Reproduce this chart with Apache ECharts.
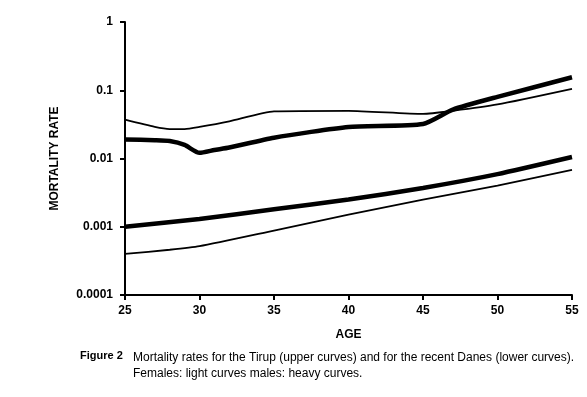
<!DOCTYPE html>
<html>
    <head>
        <meta charset="utf-8" />
        <title>ECharts</title>
        <script src="https://cdn.jsdelivr.net/npm/echarts@6/dist/echarts.min.js"></script>
        <style>
            body { margin: 0; background: #fff; }
        </style>
    </head>
    <body>
        <div id="main" style="width: 587px;height: 397px;"></div>
        <script type="text/javascript">
            const tirupFemaleAge = [25, 27, 28, 29, 30, 32, 35, 40, 45, 47, 50, 55];
            const tirupFemale = [0.037, 0.029, 0.027, 0.027, 0.029, 0.035, 0.049, 0.050, 0.045, 0.050, 0.062, 0.105];

            const tirupMaleAge = [25, 27, 28, 29, 30, 31, 32, 35, 40, 45, 47, 50, 55];
            const tirupMale = [0.019, 0.0185, 0.018, 0.0158, 0.0121, 0.0133, 0.0145, 0.0202, 0.029, 0.032, 0.052, 0.080, 0.155];

            const danesMaleAge = [25, 30, 35, 40, 45, 50, 55];
            const danesMale = [0.001, 0.0013, 0.0018, 0.0025, 0.0037, 0.0059, 0.0105];

            const danesFemaleAge = [25, 28, 30, 35, 40, 45, 50, 55];
            const danesFemale = [0.0004, 0.00046, 0.00052, 0.00088, 0.0015, 0.0025, 0.004, 0.0068];

            const yTickLabels = ['0.0001', '0.001', '0.01', '0.1', '1'];

            const myChart = echarts.init(document.getElementById('main'));

            const pairs = (ages, vals) => ages.map((a, i) => [a, vals[i]]);

            const line = (name, ages, vals, width) => ({
                type: 'line',
                name: name,
                data: pairs(ages, vals),
                showSymbol: false,
                smooth: 0.2,
                lineStyle: { color: '#000', width: width },
                z: width > 3 ? 3 : 2
            });

            const axisFont = {
                color: '#000',
                fontFamily: 'Liberation Sans',
                fontWeight: 'bold',
                fontSize: 12
            };

            const option = {
                animation: false,
                grid: { left: 125, right: 15, top: 22, bottom: 102 },
                xAxis: {
                    type: 'value',
                    min: 25,
                    max: 55,
                    interval: 5,
                    name: 'AGE',
                    nameLocation: 'middle',
                    nameGap: 34,
                    nameTextStyle: axisFont,
                    axisLine: { lineStyle: { color: '#000', width: 2 } },
                    axisTick: { length: 5, lineStyle: { color: '#000', width: 2 } },
                    axisLabel: Object.assign({ margin: 10 }, axisFont),
                    splitLine: { show: false }
                },
                yAxis: {
                    type: 'log',
                    logBase: 10,
                    min: 0.0001,
                    max: 1,
                    name: 'MORTALITY RATE',
                    nameLocation: 'middle',
                    nameGap: 64,
                    nameRotate: 90,
                    nameTextStyle: axisFont,
                    axisLine: { show: true, lineStyle: { color: '#000', width: 2 } },
                    axisTick: { show: true, length: 5, lineStyle: { color: '#000', width: 2 } },
                    axisLabel: Object.assign({
                        margin: 12,
                        formatter: (v) => yTickLabels[Math.round(Math.log10(v)) + 4]
                    }, axisFont),
                    splitLine: { show: false },
                    minorTick: { show: false }
                },
                series: [
                    line('Tirup females', tirupFemaleAge, tirupFemale, 1.8),
                    line('Tirup males', tirupMaleAge, tirupMale, 4.5),
                    line('Danes males', danesMaleAge, danesMale, 4.5),
                    line('Danes females', danesFemaleAge, danesFemale, 1.8)
                ],
                graphic: [
                    {
                        type: 'text',
                        left: 80,
                        top: 350,
                        style: { text: 'Figure 2', fill: '#000', font: 'bold 11px "Liberation Sans"' }
                    },
                    {
                        type: 'text',
                        left: 133,
                        top: 350,
                        style: {
                            text: 'Mortality rates for the Tirup (upper curves) and for the recent Danes (lower curves).\nFemales: light curves males: heavy curves.',
                            fill: '#000',
                            font: '12px "Liberation Sans"',
                            lineHeight: 16
                        }
                    }
                ]
            };
            myChart.setOption(option);
        </script>
    </body>
</html>
